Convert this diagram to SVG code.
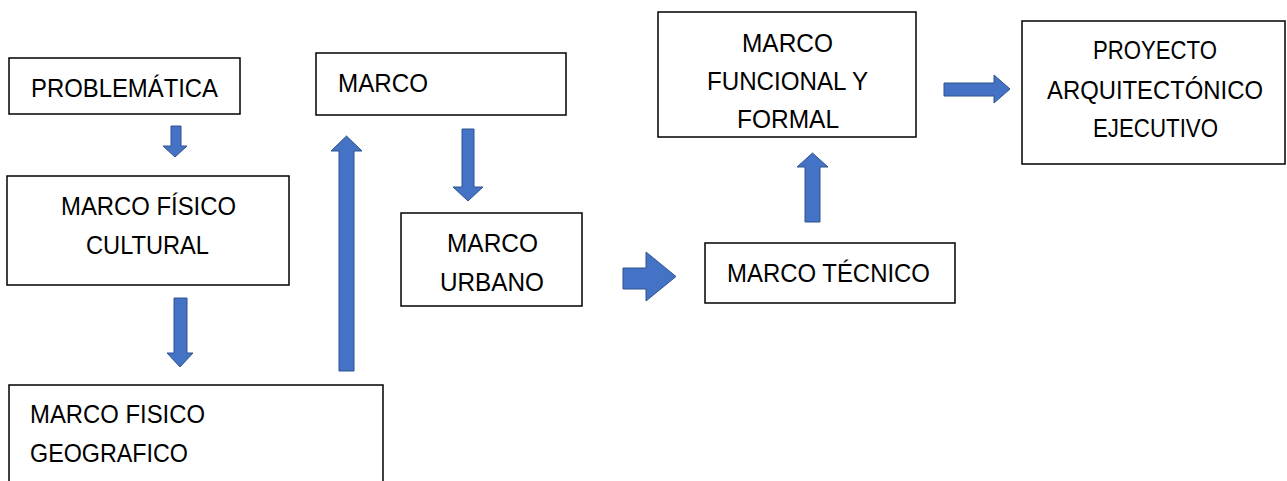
<svg xmlns="http://www.w3.org/2000/svg" width="1287" height="481" viewBox="0 0 1287 481">
  <style>
    .box { fill: #ffffff; stroke: #000000; stroke-width: 1.5; }
    .lbl { font-family: "Liberation Sans", Arial, sans-serif; font-size: 25px; fill: #000000; }
    .arrow { fill: #4472C4; stroke: #2F528F; stroke-width: 1; stroke-linejoin: miter; }
  </style>
  <rect width="1287" height="481" fill="#ffffff"/>

  <g id="connectors">
    <!-- PROBLEMÁTICA -> MARCO FÍSICO CULTURAL -->
    <path class="arrow" d="M171,126 H181 V146 H187 L175,157 L163,146 H171 Z"/>
    <!-- MARCO FÍSICO CULTURAL -> MARCO FISICO GEOGRAFICO -->
    <path class="arrow" d="M174,298 H187 V353 H193 L180,367 L167,353 H174 Z"/>
    <!-- MARCO FISICO GEOGRAFICO -> MARCO -->
    <path class="arrow" d="M339,371 V151 H331 L346.5,136 L362,151 H354 V371 Z"/>
    <!-- MARCO -> MARCO URBANO -->
    <path class="arrow" d="M462,129 H474 V187 H483 L468,201 L453,187 H462 Z"/>
    <!-- MARCO URBANO -> MARCO TÉCNICO -->
    <path class="arrow" d="M623,268 H646 V252 L676,276.5 L646,301 V289 H623 Z"/>
    <!-- MARCO TÉCNICO -> MARCO FUNCIONAL Y FORMAL -->
    <path class="arrow" d="M805,222 V167 H797 L812.5,153 L828,167 H820 V222 Z"/>
    <!-- MARCO FUNCIONAL Y FORMAL -> PROYECTO -->
    <path class="arrow" d="M944,83 H994 V75 L1010,89 L994,103 V96 H944 Z"/>
  </g>

  <g id="problematica">
    <rect class="box" x="9" y="58" width="231" height="56"/>
    <text class="lbl" x="31" y="97" textLength="187" lengthAdjust="spacingAndGlyphs">PROBLEMÁTICA</text>
  </g>

  <g id="marco-fisico-cultural">
    <rect class="box" x="7" y="176" width="282" height="109"/>
    <text class="lbl" x="61" y="215" textLength="175" lengthAdjust="spacingAndGlyphs">MARCO FÍSICO</text>
    <text class="lbl" x="86" y="254" textLength="123" lengthAdjust="spacingAndGlyphs">CULTURAL</text>
  </g>

  <g id="marco-fisico-geografico">
    <rect class="box" x="9" y="385" width="374" height="110"/>
    <text class="lbl" x="30" y="423" textLength="175" lengthAdjust="spacingAndGlyphs">MARCO FISICO</text>
    <text class="lbl" x="30" y="462" textLength="158" lengthAdjust="spacingAndGlyphs">GEOGRAFICO</text>
  </g>

  <g id="marco">
    <rect class="box" x="316" y="53" width="250" height="62"/>
    <text class="lbl" x="338" y="92" textLength="90" lengthAdjust="spacingAndGlyphs">MARCO</text>
  </g>

  <g id="marco-urbano">
    <rect class="box" x="401" y="213" width="181" height="93"/>
    <text class="lbl" x="447" y="252" textLength="91" lengthAdjust="spacingAndGlyphs">MARCO</text>
    <text class="lbl" x="440" y="291" textLength="104" lengthAdjust="spacingAndGlyphs">URBANO</text>
  </g>

  <g id="marco-tecnico">
    <rect class="box" x="705" y="243" width="250" height="60"/>
    <text class="lbl" x="727" y="282" textLength="203" lengthAdjust="spacingAndGlyphs">MARCO TÉCNICO</text>
  </g>

  <g id="marco-funcional-formal">
    <rect class="box" x="658" y="12" width="258" height="125"/>
    <text class="lbl" x="742" y="52" textLength="91" lengthAdjust="spacingAndGlyphs">MARCO</text>
    <text class="lbl" x="707" y="90" textLength="161" lengthAdjust="spacingAndGlyphs">FUNCIONAL Y</text>
    <text class="lbl" x="737" y="128" textLength="102" lengthAdjust="spacingAndGlyphs">FORMAL</text>
  </g>

  <g id="proyecto">
    <rect class="box" x="1022" y="21" width="263" height="143"/>
    <text class="lbl" x="1093" y="59" textLength="124" lengthAdjust="spacingAndGlyphs">PROYECTO</text>
    <text class="lbl" x="1047" y="99" textLength="216" lengthAdjust="spacingAndGlyphs">ARQUITECTÓNICO</text>
    <text class="lbl" x="1093" y="137" textLength="125" lengthAdjust="spacingAndGlyphs">EJECUTIVO</text>
  </g>
</svg>
